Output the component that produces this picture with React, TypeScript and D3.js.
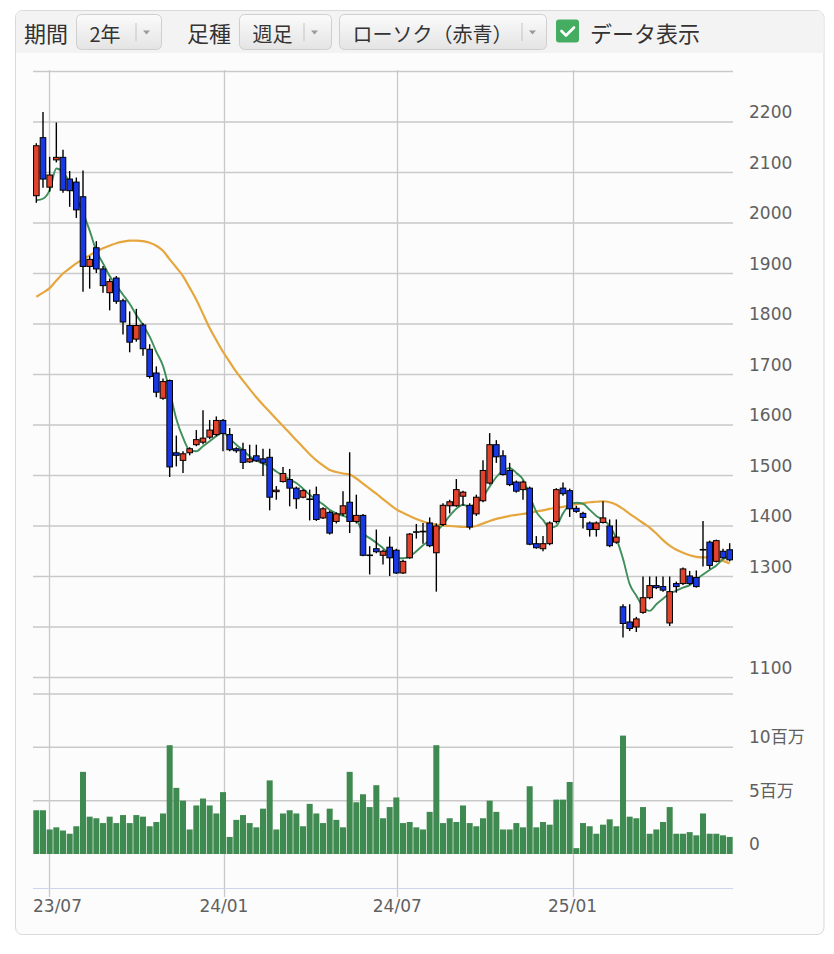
import React from 'react';
import * as d3 from 'd3';

// ---- data (weekly candles, 2 years) ----
const START_WEEK = '2023-06-18';

const opens = [
  2054, 2169, 2071, 2125, 2130, 2087, 2081, 2052, 1914, 1951,
  1909, 1862, 1891, 1846, 1797, 1770, 1798, 1750, 1703, 1653,
  1688, 1545, 1530, 1545, 1561, 1566, 1576, 1581, 1609, 1581,
  1553, 1551, 1527, 1539, 1533, 1536, 1468, 1488, 1492, 1475,
  1457, 1453, 1462, 1416, 1427, 1409, 1424, 1447, 1409, 1421,
  1342, 1355, 1342, 1358, 1352, 1307, 1337, 1387, 1388, 1406,
  1347, 1403, 1440, 1440, 1459, 1441, 1424, 1450, 1485, 1561,
  1539, 1510, 1487, 1472, 1475, 1365, 1355, 1365, 1409, 1475,
  1470, 1435, 1425, 1406, 1393, 1407, 1400, 1368, 1240, 1210,
  1200, 1229, 1258, 1282, 1280, 1208, 1286, 1286, 1301, 1298,
  1352, 1368, 1330, 1350, 1353,
];
const highs = [
  2158, 2220, 2131, 2199, 2145, 2103, 2090, 2104, 1935, 1964,
  1915, 1890, 1895, 1850, 1825, 1830, 1802, 1760, 1716, 1692,
  1690, 1579, 1548, 1556, 1590, 1629, 1610, 1617, 1612, 1594,
  1556, 1565, 1561, 1561, 1553, 1553, 1479, 1517, 1513, 1478,
  1473, 1472, 1478, 1437, 1430, 1427, 1469, 1546, 1462, 1424,
  1360, 1393, 1353, 1379, 1355, 1333, 1386, 1404, 1406, 1417,
  1405, 1445, 1452, 1493, 1470, 1445, 1462, 1530, 1584, 1570,
  1550, 1525, 1490, 1490, 1478, 1380, 1380, 1409, 1475, 1486,
  1474, 1440, 1428, 1409, 1409, 1449, 1413, 1413, 1245, 1245,
  1220, 1300, 1300, 1300, 1300, 1300, 1290, 1318, 1311, 1312,
  1410, 1371, 1373, 1355, 1366,
];
const lows = [
  2040, 2070, 2062, 2120, 2060, 2032, 2010, 1864, 1870, 1901,
  1862, 1827, 1840, 1779, 1744, 1765, 1737, 1692, 1655, 1650,
  1497, 1518, 1505, 1540, 1558, 1562, 1572, 1578, 1548, 1548,
  1545, 1513, 1525, 1527, 1499, 1431, 1452, 1486, 1439, 1434,
  1455, 1411, 1410, 1414, 1383, 1405, 1420, 1386, 1405, 1340,
  1304, 1346, 1324, 1301, 1305, 1305, 1335, 1375, 1365, 1358,
  1270, 1400, 1425, 1438, 1440, 1393, 1420, 1447, 1482, 1525,
  1500, 1479, 1466, 1452, 1362, 1355, 1350, 1362, 1405, 1460,
  1418, 1426, 1395, 1379, 1379, 1405, 1358, 1365, 1179, 1192,
  1190, 1226, 1255, 1275, 1270, 1202, 1268, 1283, 1283, 1278,
  1320, 1315, 1328, 1335, 1330,
];
const closes = [
  2153, 2087, 2095, 2130, 2065, 2064, 2026, 1914, 1928, 1909,
  1876, 1884, 1845, 1804, 1764, 1797, 1751, 1696, 1665, 1686,
  1517, 1540, 1543, 1553, 1571, 1574, 1590, 1609, 1583, 1551,
  1549, 1526, 1533, 1529, 1525, 1457, 1471, 1504, 1475, 1454,
  1470, 1452, 1413, 1434, 1386, 1424, 1440, 1409, 1421, 1342,
  1341, 1349, 1350, 1337, 1307, 1330, 1384, 1388, 1389, 1361,
  1400, 1441, 1448, 1472, 1467, 1398, 1457, 1510, 1561, 1537,
  1502, 1482, 1469, 1487, 1364, 1357, 1365, 1406, 1472, 1464,
  1434, 1429, 1417, 1393, 1406, 1416, 1361, 1378, 1207, 1197,
  1216, 1258, 1282, 1278, 1273, 1270, 1280, 1315, 1286, 1280,
  1353, 1322, 1371, 1337, 1333,
];
// volume in millions of shares
const volumes = [
  4.1, 4.1, 2.3, 2.5, 2.2, 1.9, 2.6, 7.7, 3.5, 3.35,
  2.9, 3.5, 2.9, 3.65, 2.9, 3.65, 3.5, 2.6, 3.0, 3.8,
  10.2, 6.2, 5.0, 2.3, 4.55, 5.2, 4.55, 3.8, 5.8, 1.6,
  3.2, 3.65, 2.9, 2.5, 4.25, 6.9, 2.3, 3.8, 4.1, 3.8,
  2.6, 4.7, 3.8, 2.9, 4.25, 3.2, 2.5, 7.7, 4.85, 5.6,
  4.4, 6.45, 3.35, 4.4, 5.3, 2.9, 3.0, 2.5, 2.3, 3.95,
  10.2, 2.9, 3.35, 3.0, 4.55, 2.9, 2.6, 3.35, 5.0, 3.95,
  2.3, 2.3, 2.9, 2.5, 6.35, 2.5, 3.0, 2.75, 5.1, 5.1,
  6.75, 0.55, 2.9, 2.6, 1.9, 2.75, 3.25, 2.6, 11.1, 3.5,
  3.35, 4.4, 1.9, 2.3, 3.0, 4.4, 1.9, 1.9, 2.05, 1.75,
  3.8, 1.9, 1.9, 1.75, 1.6,
];
// short moving average (green)
const maShort = [
  2045, 2048, 2065, 2108, 2100, 2080, 2050, 2020, 1985, 1945,
  1920, 1895, 1876, 1858, 1840, 1818, 1798, 1775, 1745, 1717,
  1667, 1612, 1575, 1550, 1548, 1558, 1568, 1578, 1585, 1573,
  1561, 1550, 1538, 1530, 1524, 1518, 1508, 1500, 1492, 1485,
  1474, 1462, 1452, 1443, 1432, 1425, 1420, 1416, 1412, 1386,
  1376, 1367, 1356, 1345, 1336, 1336, 1340, 1350, 1362, 1372,
  1388, 1403, 1420, 1434, 1442, 1438, 1446, 1458, 1478, 1497,
  1510, 1515, 1505, 1492, 1460, 1428, 1412, 1396, 1400, 1425,
  1442, 1446, 1444, 1432, 1420, 1412, 1400, 1375, 1335, 1285,
  1262, 1240, 1232, 1245, 1256, 1266, 1272, 1278, 1283, 1294,
  1304, 1313, 1322, 1334, 1340,
];
// long moving average (orange)
const maLong = [
  1854, 1862, 1871, 1886, 1900, 1910, 1920, 1928, 1936, 1944,
  1950, 1955, 1960, 1963, 1965, 1965, 1964, 1961, 1955, 1945,
  1928, 1912, 1895, 1872, 1848, 1820, 1792, 1768, 1745, 1725,
  1705, 1688, 1671, 1655, 1640, 1626, 1612, 1598, 1584, 1570,
  1556, 1542, 1530, 1520, 1511, 1507, 1504, 1502, 1494, 1484,
  1474, 1464, 1453, 1443, 1433, 1426, 1420, 1414, 1409, 1405,
  1403, 1401, 1400, 1399, 1398, 1398, 1400, 1405, 1410, 1414,
  1417, 1420, 1422, 1424, 1426, 1429, 1431, 1434, 1436, 1438,
  1441, 1443, 1445, 1447, 1448, 1449, 1447, 1442, 1434, 1424,
  1415, 1406, 1397, 1385, 1372, 1361, 1353, 1347, 1342, 1339,
  1338, 1338, 1335, 1331, 1326,
];

const priceGrid = [1100, 1200, 1300, 1400, 1500, 1600, 1700, 1800, 1900, 2000, 2100, 2200, 2300];
const priceLabels = [1100, 1300, 1400, 1500, 1600, 1700, 1800, 1900, 2000, 2100, 2200];
const volGrid = [5, 10, 15];
const volLabelValues = [0, 5, 10];
const volLabelTexts = ['0', '5百万', '10百万'];
const xTickDates = ['2023-07-01', '2024-01-01', '2024-07-01', '2025-01-01'];
const xTickLabels = ['23/07', '24/01', '24/07', '25/01'];

const RED = '#e2432c';
const BLUE = '#1738e4';
const GREEN_VOL = '#3e8a50';
const GREEN_MA = '#3f8f5a';
const ORANGE_MA = '#e6a63e';
const GRID = '#c9c9c9';
const AXIS_FONT = "'DejaVu Sans', 'Noto Sans CJK JP', sans-serif";
const JP_FONT = "'Noto Sans CJK JP', sans-serif";

function Button({ x, w, label, sep }: { x: number; w: number; label: string; sep: number }) {
  return (
    <g>
      <rect x={x} y={14.5} width={w} height={35} rx={5} fill="url(#btnGrad)" stroke="#cfcfcf" />
      <text x={x + 13} y={33} fontSize={20} fill="#333" fontFamily={JP_FONT} dominantBaseline="central">
        {label}
      </text>
      <line x1={sep} x2={sep} y1={23} y2={41} stroke="#c4c4c4" strokeWidth={1} />
      <path d={`M${sep + 7},${30.5} l7,0 l-3.5,4 z`} fill="#9a9a9a" />
    </g>
  );
}

export default function App() {
  const parse = d3.timeParse('%Y-%m-%d');
  const start = parse(START_WEEK) as Date;
  const dates = closes.map((_, i) => d3.timeWeek.offset(start, i));
  const half = 3.5 * 24 * 3600 * 1000;
  const x = d3
    .scaleTime()
    .domain([new Date(+dates[0] - half), new Date(+dates[dates.length - 1] + half)])
    .range([33, 733]);
  const y = d3.scaleLinear().domain([1100, 2200]).range([677.5, 122]);
  const yv = d3.scaleLinear().domain([0, 15]).range([854, 694]);

  const lineGen = d3
    .line<number>()
    .x((_, i) => x(dates[i]))
    .y((d) => y(d))
    .curve(d3.curveMonotoneX);

  const bodyW = 5.6;
  const volW = 6.0;

  return (
    <svg
      width={834}
      height={954}
      style={{ position: 'absolute', left: 0, top: 0, display: 'block', background: '#ffffff' }}
    >
      <defs>
        <linearGradient id="btnGrad" x1="0" x2="0" y1="0" y2="1">
          <stop offset="0" stopColor="#fbfbfb" />
          <stop offset="1" stopColor="#e4e4e4" />
        </linearGradient>
        <clipPath id="plotClip">
          <rect x={33} y={60} width={700} height={640} />
        </clipPath>
      </defs>

      {/* panel */}
      <rect x={15.5} y={10.5} width={808.5} height={924} rx={7} fill="#fcfcfc" stroke="#d9d9d9" />
      <path d="M16,53 L16,17 Q16,11 22,11 L817.5,11 Q823.5,11 823.5,17 L823.5,53 Z" fill="#f3f3f3" />

      {/* toolbar */}
      <text x={24} y={32} fontSize={22} fill="#333" fontFamily={JP_FONT} dominantBaseline="central">期間</text>
      <Button x={76.5} w={85} label="2年" sep={136} />
      <text x={187} y={32} fontSize={22} fill="#333" fontFamily={JP_FONT} dominantBaseline="central">足種</text>
      <Button x={239.5} w={92} label="週足" sep={304} />
      <Button x={339.5} w={207} label="ローソク（赤青）" sep={522} />
      <rect x={556} y={19.5} width={23} height={23} rx={3} fill="#45ad62" />
      <path d="M561.5,31 l4.5,4.5 l8,-8" fill="none" stroke="#fff" strokeWidth={2.6} strokeLinecap="round" strokeLinejoin="round" />
      <text x={590} y={32} fontSize={22} fill="#333" fontFamily={JP_FONT} dominantBaseline="central">データ表示</text>

      {/* vertical grid lines */}
      {xTickDates.map((d) => {
        const xx = Math.round(x(parse(d) as Date)) + 0.5;
        return <line key={d} x1={xx} x2={xx} y1={70} y2={897} stroke={GRID} strokeWidth={1.3} />;
      })}

      {/* horizontal price grid */}
      {priceGrid.map((p) => (
        <line key={p} x1={33} x2={733} y1={y(p)} y2={y(p)} stroke={GRID} strokeWidth={1.5} />
      ))}
      {/* volume grid */}
      {volGrid.map((v) => (
        <line key={v} x1={33} x2={733} y1={yv(v)} y2={yv(v)} stroke={GRID} strokeWidth={1.5} />
      ))}
      {/* x axis line */}
      <line x1={33} x2={733} y1={888.5} y2={888.5} stroke="#ccd6eb" strokeWidth={1.2} />

      {/* price labels */}
      {priceLabels.map((p) => (
        <text key={p} x={749} y={y(p) - 10} fontSize={17} fill="#606060" fontFamily={AXIS_FONT} dominantBaseline="central">
          {p}
        </text>
      ))}
      {/* volume labels */}
      {volLabelValues.map((v, i) => (
        <text key={v} x={749} y={yv(v) - 10} fontSize={17} fill="#606060" fontFamily={AXIS_FONT} dominantBaseline="central">
          {volLabelTexts[i]}
        </text>
      ))}
      {/* x labels */}
      {xTickDates.map((d, i) => {
        const xx = x(parse(d) as Date);
        const first = i === 0;
        return (
          <text
            key={d}
            x={first ? 33 : xx}
            y={906}
            fontSize={17}
            fill="#606060"
            fontFamily={AXIS_FONT}
            textAnchor={first ? 'start' : 'middle'}
            dominantBaseline="central"
          >
            {xTickLabels[i]}
          </text>
        );
      })}

      {/* volume bars */}
      {volumes.map((v, i) => (
        <rect
          key={i}
          x={x(dates[i]) - volW / 2}
          y={yv(v)}
          width={volW}
          height={yv(0) - yv(v)}
          fill={GREEN_VOL}
        />
      ))}

      {/* moving averages */}
      <g clipPath="url(#plotClip)">
        <path d={lineGen(maLong) || ''} fill="none" stroke={ORANGE_MA} strokeWidth={2.2} />
        <path d={lineGen(maShort) || ''} fill="none" stroke={GREEN_MA} strokeWidth={1.9} />
      </g>

      {/* candles */}
      {closes.map((c, i) => {
        const o = opens[i];
        const cx = x(dates[i]);
        const top = y(Math.max(o, c));
        const bot = y(Math.min(o, c));
        const doji = Math.abs(o - c) <= 1;
        const fill = doji ? '#000' : c > o ? RED : BLUE;
        return (
          <g key={i}>
            <line x1={cx} x2={cx} y1={y(highs[i])} y2={y(lows[i])} stroke="#000" strokeWidth={1.4} />
            {doji ? (
              <line x1={cx - bodyW / 2 - 0.5} x2={cx + bodyW / 2 + 0.5} y1={top} y2={top} stroke="#000" strokeWidth={1.6} />
            ) : (
              <rect
                x={cx - bodyW / 2}
                y={top}
                width={bodyW}
                height={Math.max(1, bot - top)}
                fill={fill}
                stroke="#000"
                strokeWidth={1}
              />
            )}
          </g>
        );
      })}
    </svg>
  );
}
